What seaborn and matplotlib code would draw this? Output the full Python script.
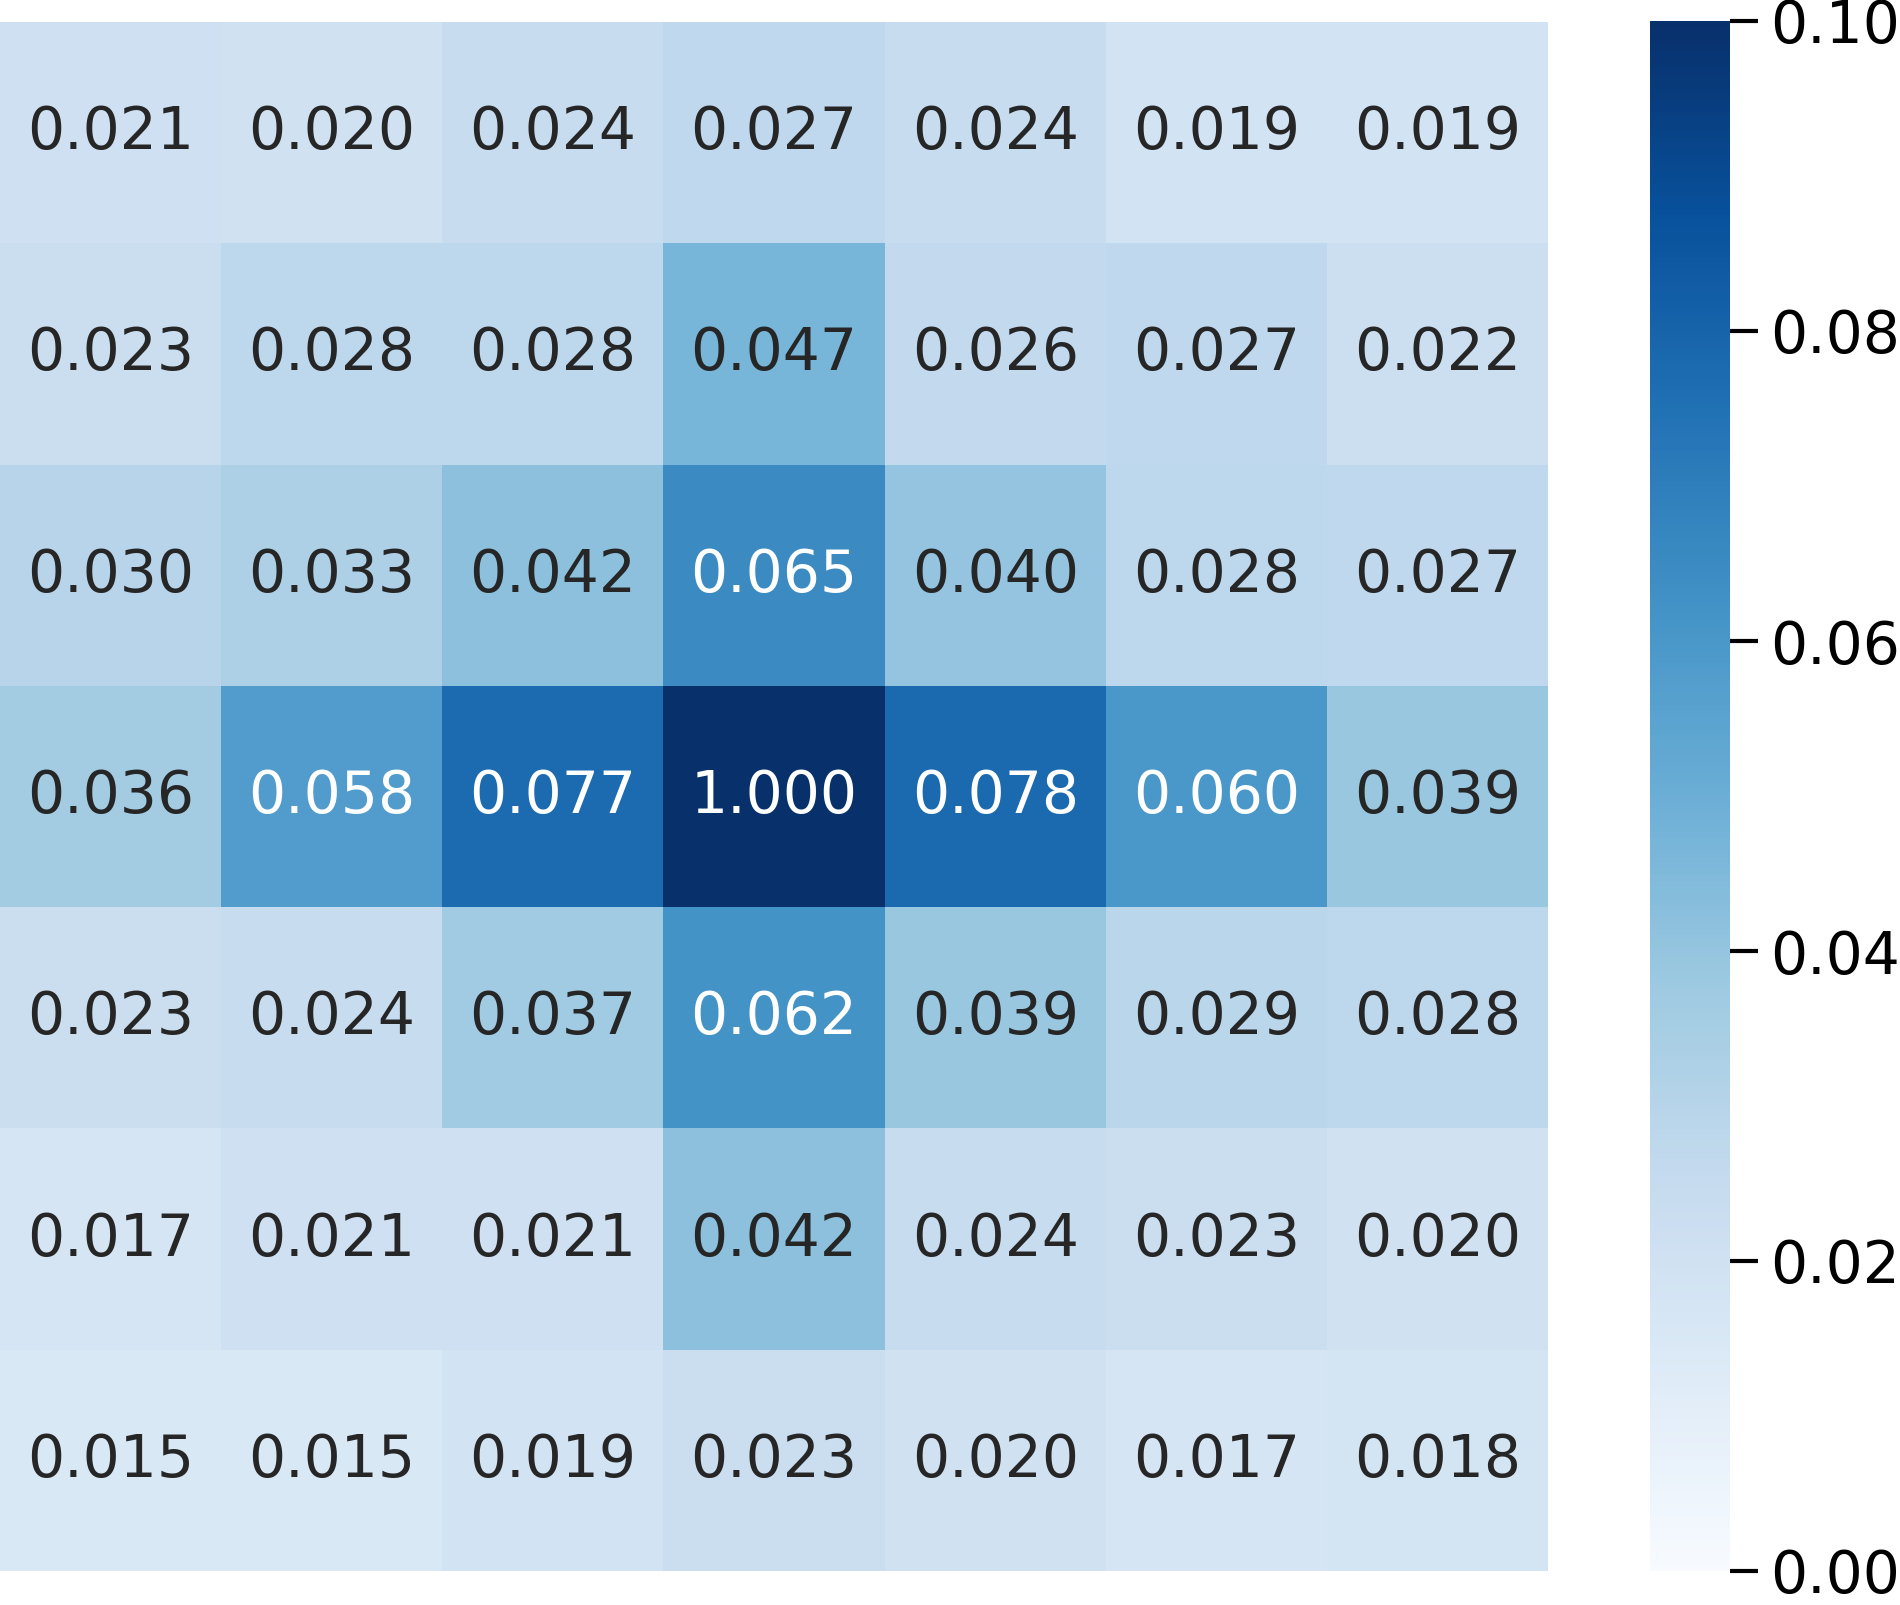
import numpy as np
import matplotlib
matplotlib.use('Agg')
import matplotlib.pyplot as plt
import seaborn as sns

# 注意力权重矩阵 (7x7)
row0 = [0.021, 0.020, 0.024, 0.027, 0.024, 0.019, 0.019]
row1 = [0.023, 0.028, 0.028, 0.047, 0.026, 0.027, 0.022]
row2 = [0.030, 0.033, 0.042, 0.065, 0.040, 0.028, 0.027]
row3 = [0.036, 0.058, 0.077, 1.000, 0.078, 0.060, 0.039]
row4 = [0.023, 0.024, 0.037, 0.062, 0.039, 0.029, 0.028]
row5 = [0.017, 0.021, 0.021, 0.042, 0.024, 0.023, 0.020]
row6 = [0.015, 0.015, 0.019, 0.023, 0.020, 0.017, 0.018]
cbar_ticks = [0.00, 0.02, 0.04, 0.06, 0.08, 0.10]

mat = np.array([row0, row1, row2, row3, row4, row5, row6])

W, H = 1900, 1605
fig = plt.figure(figsize=(W / 100, H / 100), dpi=100)
ax = fig.add_axes([0, 1 - 1571 / H, 1548 / W, (1571 - 22) / H])
cax = fig.add_axes([1650 / W, 1 - 1571 / H, 80 / W, (1571 - 21) / H])

sns.heatmap(mat, ax=ax, cbar_ax=cax, cmap='Blues', vmin=0, vmax=0.1,
            annot=True, fmt='.3f', annot_kws={'size': 42},
            xticklabels=False, yticklabels=False)

cax.set_yticks(cbar_ticks)
cax.set_yticklabels(['%.2f' % t for t in cbar_ticks])
cax.tick_params(labelsize=42, length=20, width=3, pad=9, colors='black')

fig.savefig('out.png', dpi=100)
